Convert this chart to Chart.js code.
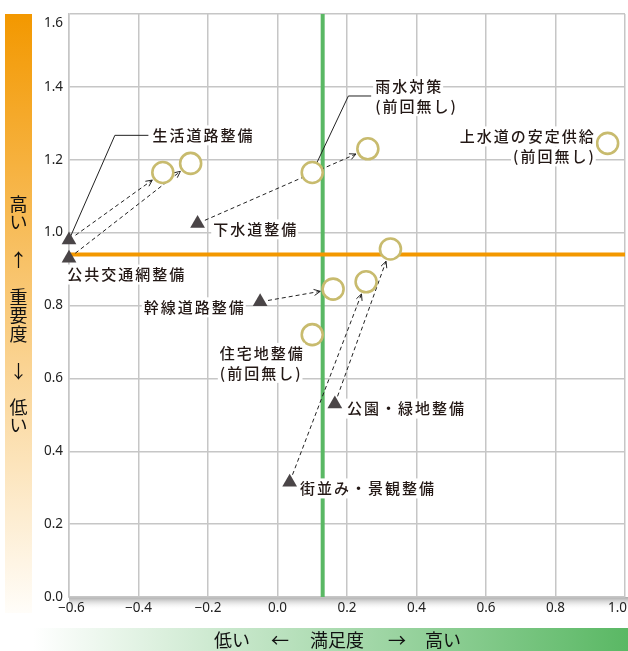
<!DOCTYPE html>
<html>
<head>
<meta charset="utf-8">
<script src="https://cdn.jsdelivr.net/npm/chart.js@4.4.1/dist/chart.umd.min.js"></script>
<style>
  html, body { margin: 0; padding: 0; background: #fff; overflow: hidden; }
  #wrap { width: 628px; height: 651px; position: relative; }
  canvas { display: block; }
</style>
</head>
<body>
<div id="wrap"><canvas id="matrixChart"></canvas></div>
<script>
// Axis ticks
const xTicks = [-0.6, -0.4, -0.2, 0.0, 0.2, 0.4, 0.6, 0.8, 1.0];
const yTicks = [0.0, 0.2, 0.4, 0.6, 0.8, 1.0, 1.2, 1.4, 1.6];

// Previous survey (triangles)
const prevNames = ["生活道路整備", "公共交通網整備", "下水道整備", "幹線道路整備", "街並み・景観整備", "公園・緑地整備"];
const prevX = [-0.60, -0.60, -0.23, -0.05, 0.035, 0.165];
const prevY = [0.98, 0.93, 1.025, 0.81, 0.315, 0.53];

// Current survey (circles); the first six match prevNames
const currNames = ["生活道路整備", "公共交通網整備", "下水道整備", "幹線道路整備", "街並み・景観整備", "公園・緑地整備", "雨水対策", "上水道の安定供給", "住宅地整備"];
const currX = [-0.33, -0.25, 0.26, 0.16, 0.255, 0.325, 0.10, 0.95, 0.10];
const currY = [1.165, 1.19, 1.23, 0.845, 0.865, 0.955, 1.165, 1.245, 0.72];

// Average lines
const avgSatisfaction = 0.13;
const avgImportance = 0.94;

// Text labels (anchor in data units, leader elbow in data units)
const labels = [
  { lines: ["生活道路整備"], x: -0.36, y: 1.267, align: "left", leader: { set: "prev", i: 0, ex: -0.468, ey: 1.267 } },
  { lines: ["公共交通網整備"], x: -0.605, y: 0.885, align: "left" },
  { lines: ["下水道整備"], x: -0.185, y: 1.009, align: "left" },
  { lines: ["幹線道路整備"], x: -0.385, y: 0.795, align: "left" },
  { lines: ["雨水対策", "(前回無し)"], x: 0.281, y: 1.402, align: "left", leader: { set: "curr", i: 6, ex: 0.204, ey: 1.375 } },
  { lines: ["上水道の安定供給", "(前回無し)"], x: 0.91, y: 1.264, align: "right" },
  { lines: ["住宅地整備", "(前回無し)"], x: -0.166, y: 0.67, align: "left" },
  { lines: ["公園・緑地整備"], x: 0.2, y: 0.517, align: "left" },
  { lines: ["街並み・景観整備"], x: 0.065, y: 0.298, align: "left" },
];

const labelFont = '500 15px "Noto Sans CJK JP"';
const fmt = (v) => v.toFixed(1).replace("-", "\u2212");

function drawText(ctx, text, px, py, align) {
  ctx.font = labelFont;
  ctx.letterSpacing = "2px";
  const w = ctx.measureText(text).width - 2;
  const left = align === "right" ? px - w : px;
  ctx.fillStyle = "#fff";
  ctx.fillRect(left - 2, py - 10, w + 4, 20);
  ctx.fillStyle = "#231815";
  ctx.textAlign = "left";
  ctx.textBaseline = "middle";
  ctx.fillText(text, left, py);
  ctx.letterSpacing = "0px";
  return left;
}

function drawArrow(ctx, x1, y1, x2, y2) {
  const a = Math.atan2(y2 - y1, x2 - x1);
  const sx = x1 + Math.cos(a) * 8, sy = y1 + Math.sin(a) * 8;
  const ex = x2 - Math.cos(a) * 13, ey = y2 - Math.sin(a) * 13;
  ctx.strokeStyle = "#222";
  ctx.lineWidth = 1;
  ctx.setLineDash([4, 3]);
  ctx.beginPath();
  ctx.moveTo(sx, sy);
  ctx.lineTo(ex, ey);
  ctx.stroke();
  ctx.setLineDash([]);
  ctx.beginPath();
  ctx.moveTo(ex - 7 * Math.cos(a - 0.45), ey - 7 * Math.sin(a - 0.45));
  ctx.lineTo(ex, ey);
  ctx.lineTo(ex - 7 * Math.cos(a + 0.45), ey - 7 * Math.sin(a + 0.45));
  ctx.stroke();
}

// Background bars, shadow band and side titles
const frame = {
  id: "frame",
  beforeDraw(chart) {
    const { ctx, chartArea } = chart;
    ctx.save();
    ctx.fillStyle = "#fff";
    ctx.fillRect(0, 0, chart.width, chart.height);

    // Orange importance bar
    let g = ctx.createLinearGradient(0, chartArea.top, 0, chartArea.bottom + 16);
    g.addColorStop(0, "#f39800");
    g.addColorStop(1, "#fffdf9");
    ctx.fillStyle = g;
    ctx.fillRect(5, chartArea.top, 27, chartArea.bottom + 16 - chartArea.top);

    // Green satisfaction bar
    g = ctx.createLinearGradient(33, 0, chart.width, 0);
    g.addColorStop(0, "#ffffff");
    g.addColorStop(1, "#5ab864");
    ctx.fillStyle = g;
    ctx.fillRect(33, 628, chart.width - 33, 23);

    // Shadow under x axis
    g = ctx.createLinearGradient(0, chartArea.bottom, 0, chartArea.bottom + 13);
    g.addColorStop(0, "#a8a8a8");
    g.addColorStop(1, "rgba(255,255,255,0)");
    ctx.fillStyle = g;
    ctx.fillRect(chartArea.left, chartArea.bottom, chart.width - chartArea.left, 13);
    ctx.restore();
  },
  beforeDatasetDraw(chart, args) {
    if (args.index !== 1) return;
    const { ctx, scales: { x, y } } = chart;
    ctx.save();
    // Change arrows
    for (let i = 0; i < prevX.length; i++) {
      drawArrow(ctx, x.getPixelForValue(prevX[i]), y.getPixelForValue(prevY[i]),
        x.getPixelForValue(currX[i]), y.getPixelForValue(currY[i]));
    }
    // Leader lines
    ctx.strokeStyle = "#222";
    ctx.lineWidth = 1;
    labels.forEach((l) => {
      if (!l.leader) return;
      const px = l.leader.set === "prev" ? prevX[l.leader.i] : currX[l.leader.i];
      const py = l.leader.set === "prev" ? prevY[l.leader.i] : currY[l.leader.i];
      ctx.beginPath();
      ctx.moveTo(x.getPixelForValue(px), y.getPixelForValue(py));
      ctx.lineTo(x.getPixelForValue(l.leader.ex), y.getPixelForValue(l.leader.ey));
      ctx.lineTo(x.getPixelForValue(l.x) - 4, y.getPixelForValue(l.leader.ey));
      ctx.stroke();
    });
    ctx.restore();
  },
  afterDraw(chart) {
    const { ctx, chartArea, scales: { x, y } } = chart;
    ctx.save();
    // Point labels
    labels.forEach((l) => {
      l.lines.forEach((t, k) => {
        drawText(ctx, t, x.getPixelForValue(l.x), y.getPixelForValue(l.y) + k * 20, l.align);
      });
    });

    // Tick labels
    ctx.font = '13.5px "Noto Sans"';
    ctx.fillStyle = "#222";
    ctx.textBaseline = "middle";
    ctx.textAlign = "left";
    xTicks.forEach((v) => {
      const t = fmt(v);
      const w = ctx.measureText(t).width;
      let left = x.getPixelForValue(v) - w / 2;
      left = Math.max(left, chartArea.left - 11);
      left = Math.min(left, chart.width - w - 1);
      ctx.fillText(t, left, chartArea.bottom + 11);
    });
    ctx.textAlign = "right";
    yTicks.forEach((v) => {
      const py = Math.max(y.getPixelForValue(v), chartArea.top + 9);
      ctx.fillText(fmt(v), chartArea.left - 6, py);
    });

    // Side titles
    ctx.font = '18px "Noto Sans CJK JP"';
    ctx.fillStyle = "#111";
    ctx.textAlign = "center";
    const vert = [["高", 204], ["い", 222], ["↑", 260], ["重", 297], ["要", 315.5], ["度", 334], ["↓", 371], ["低", 407], ["い", 425]];
    vert.forEach(([c, py]) => ctx.fillText(c, 18.5, py));
    const horiz = [["低い", 232], ["←", 280], ["満足度", 337], ["→", 397], ["高い", 443]];
    horiz.forEach(([t, px]) => ctx.fillText(t, px, 640));
    ctx.restore();
  },
};

const gridColor = "#c6c6c6";

new Chart(document.getElementById("matrixChart"), {
  type: "scatter",
  data: {
    datasets: [
      {
        label: "前回",
        data: prevX.map((v, i) => ({ x: v, y: prevY[i] })),
        pointStyle: "triangle",
        pointRadius: 8.5,
        backgroundColor: "#4a4547",
        borderWidth: 0,
        clip: false,
        order: 0,
      },
      {
        label: "今回",
        data: currX.map((v, i) => ({ x: v, y: currY[i] })),
        pointStyle: "circle",
        pointRadius: 10.5,
        backgroundColor: "#fff",
        borderColor: "#c8bb6e",
        borderWidth: 2.6,
        clip: false,
        order: 1,
      },
      {
        type: "line",
        label: "重要度平均",
        data: [{ x: xTicks[0], y: avgImportance }, { x: xTicks[xTicks.length - 1], y: avgImportance }],
        borderColor: "#f39800",
        borderWidth: 4,
        pointRadius: 0,
        order: 3,
      },
      {
        type: "line",
        label: "満足度平均",
        data: [{ x: avgSatisfaction, y: yTicks[0] }, { x: avgSatisfaction, y: yTicks[yTicks.length - 1] }],
        borderColor: "#5ab864",
        borderWidth: 4,
        pointRadius: 0,
        order: 3,
      },
    ],
  },
  options: {
    responsive: true,
    maintainAspectRatio: false,
    animation: false,
    layout: { autoPadding: false, padding: { top: 14, right: 3, left: 0, bottom: 0 } },
    plugins: { legend: { display: false }, tooltip: { enabled: false } },
    scales: {
      x: {
        type: "linear",
        min: xTicks[0],
        max: xTicks[xTicks.length - 1],
        ticks: { stepSize: 0.2, display: false },
        grid: { color: gridColor, lineWidth: 1.5, drawTicks: false },
        border: { color: gridColor, width: 1.5 },
        afterFit: (s) => { s.height = 54; s.paddingLeft = 0; s.paddingRight = 0; },
      },
      y: {
        type: "linear",
        min: yTicks[0],
        max: yTicks[yTicks.length - 1],
        ticks: { stepSize: 0.2, display: false },
        grid: { color: gridColor, lineWidth: 1.5, drawTicks: false },
        border: { color: gridColor, width: 1.5 },
        afterFit: (s) => { s.width = 69; s.paddingTop = 0; s.paddingBottom = 0; },
      },
    },
  },
  plugins: [frame],
});
</script>
</body>
</html>
